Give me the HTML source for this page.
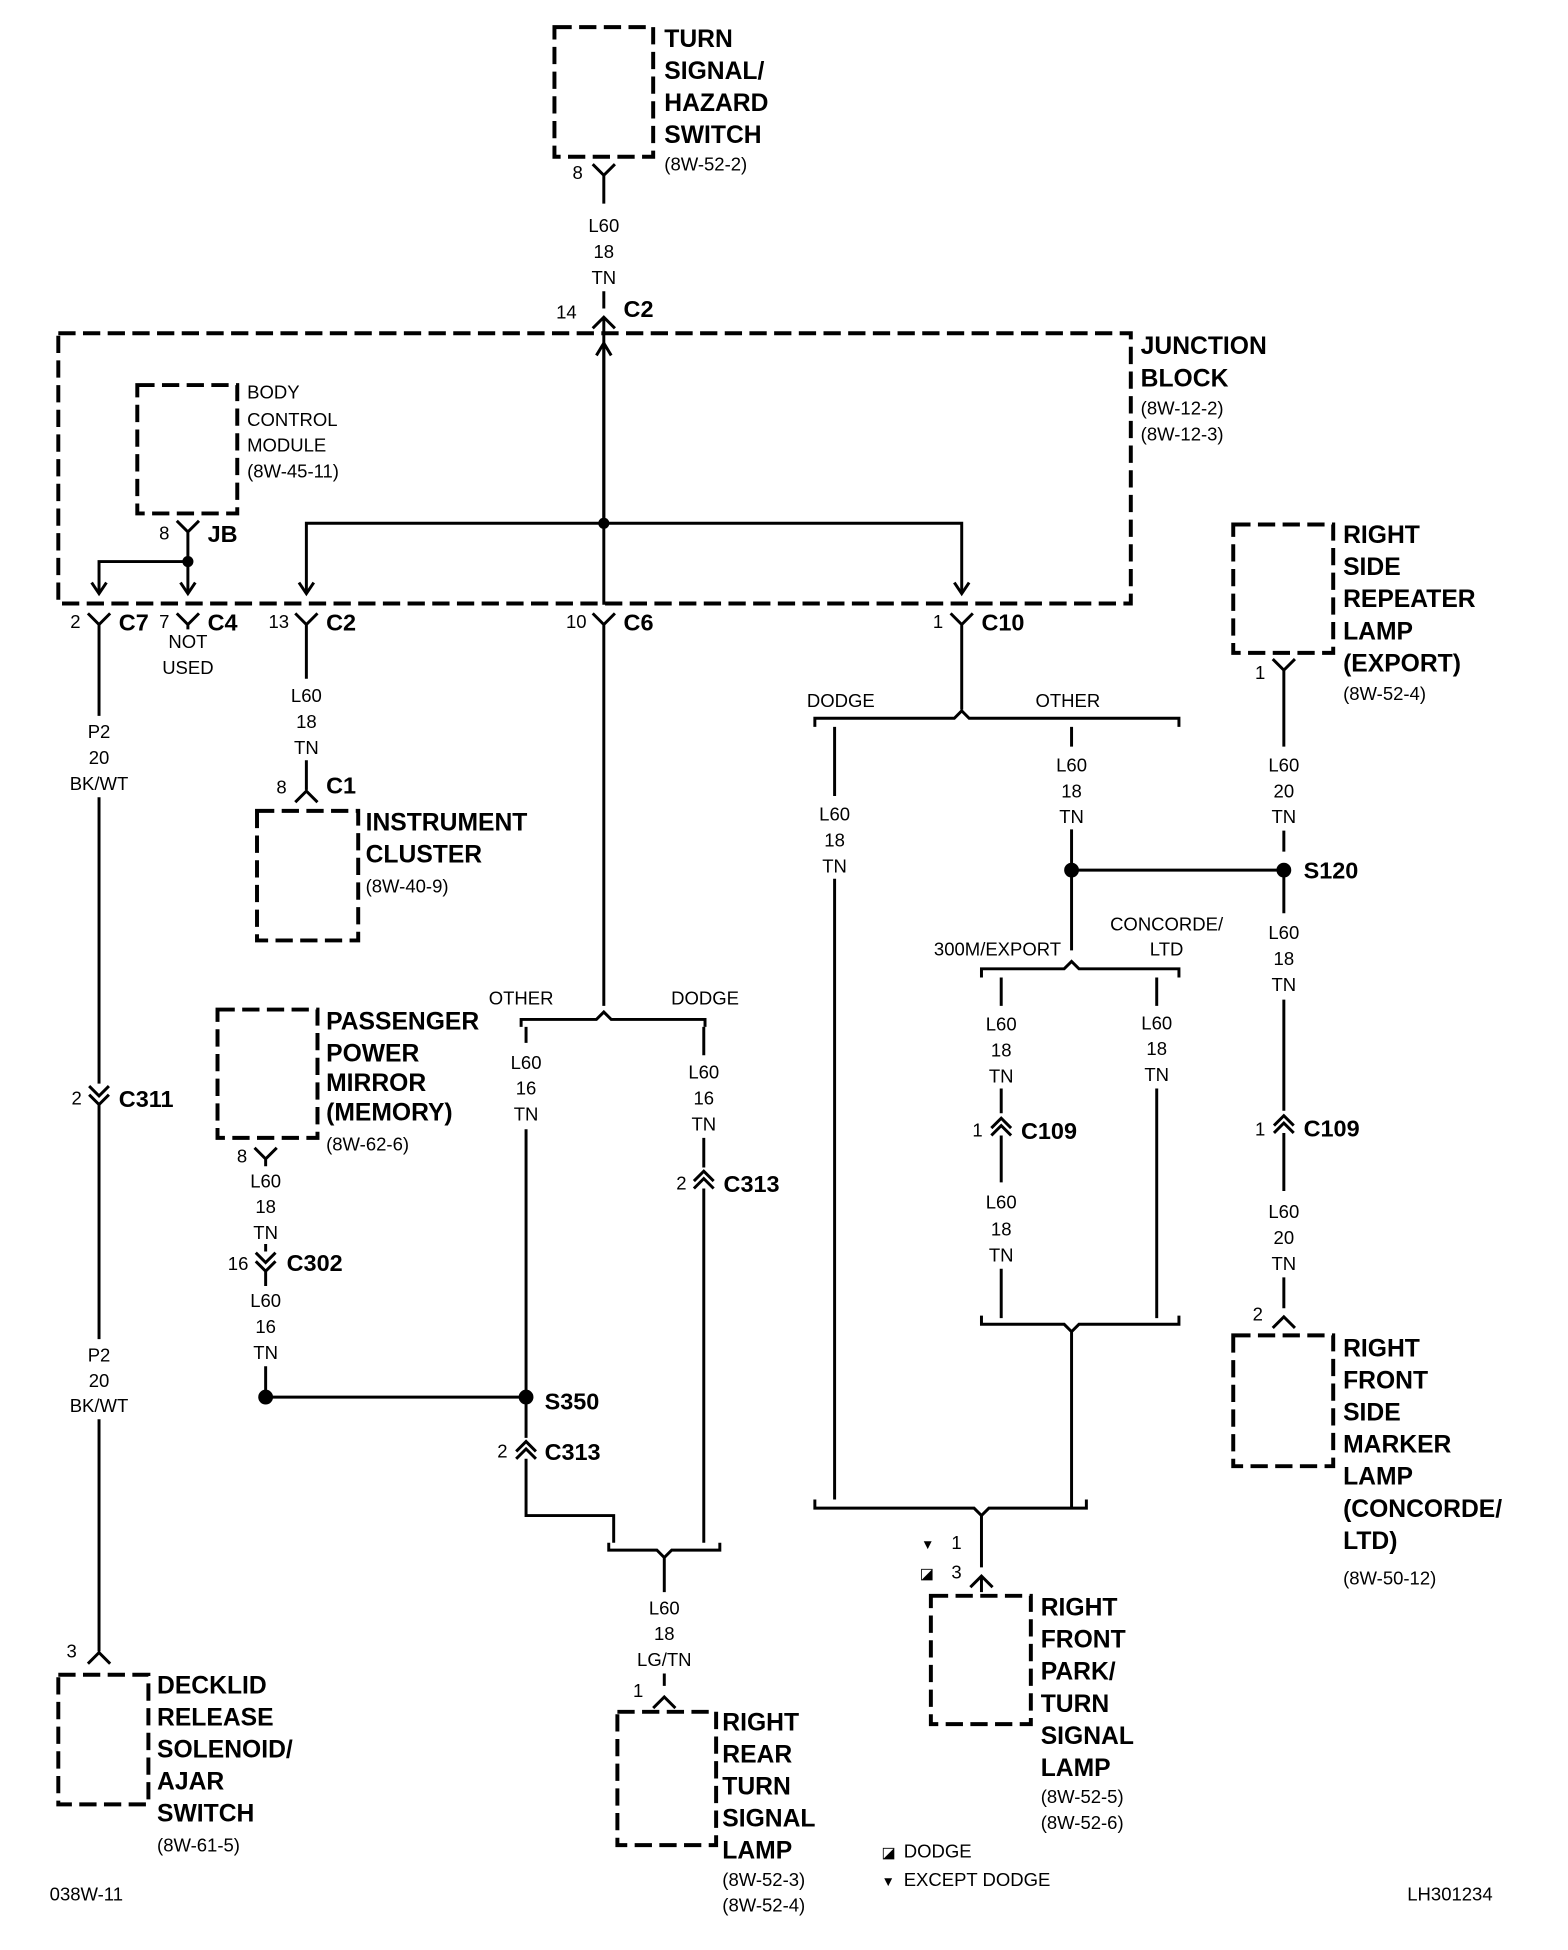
<!DOCTYPE html>
<html><head><meta charset="utf-8"><style>
html,body{margin:0;padding:0;background:#fff}
svg{display:block}
text{font-family:"Liberation Sans",sans-serif;fill:#000}
.t{font-size:20px;font-weight:bold}
.s{font-size:15px}
.c{font-size:19px;font-weight:bold}
.b{fill:none;stroke:#000;stroke-width:3.2;stroke-dasharray:14 6}
.w{fill:none;stroke:#000;stroke-width:2.4}
</style></head><body>
<svg width="1568" height="1950" viewBox="0 0 1270 1580" xmlns="http://www.w3.org/2000/svg">
<!-- boxes -->
<rect class="b" x="449" y="22" width="80" height="105"/>
<rect class="b" x="47" y="270" width="869" height="219"/>
<rect class="b" x="111" y="312" width="81" height="104"/>
<rect class="b" x="208" y="657" width="82" height="105"/>
<rect class="b" x="176" y="818" width="81" height="104"/>
<rect class="b" x="999" y="425" width="81" height="104"/>
<rect class="b" x="999" y="1082" width="81" height="106"/>
<rect class="b" x="47" y="1357" width="73" height="105"/>
<rect class="b" x="500" y="1387" width="80" height="108"/>
<rect class="b" x="754" y="1293" width="81" height="104"/>

<g class="w">
<!-- top wire -->
<path d="M480 133 L489 142 L498 133 M489 142 V165"/>
<path d="M489 236 V250 M480 266 L489 257 L498 266 M489 257 V424"/>
<path d="M489 424 V278 M483 288 L489 278 L495 288"/>
<path d="M489 424 V490 M480 497 L489 506 L498 497 M489 506 V815"/>
<path d="M248 480 V424 H779 V480"/>
<path d="M242 472 L248 481 L254 472 M773 472 L779 481 L785 472"/>
<!-- BCM -->
<path d="M143 422 L152 431 L161 422 M152 431 V455 H80 V480 M152 455 V480"/>
<path d="M74 472 L80 481 L86 472 M146 472 L152 481 L158 472"/>
<!-- bottom connectors of JB -->
<path d="M71 497 L80 506 L89 497 M80 506 V580 M143 497 L152 506 L161 497 M152 506 V510 M239 497 L248 506 L257 497 M248 506 V550 M770 497 L779 506 L788 497 M779 506 V575"/>
<!-- P2 -->
<path d="M80 646 V878 M72 880 L80 888 L88 880 M72 887 L80 895 L88 887 M80 895 V1085 M80 1150 V1338 M71 1348 L80 1339 L89 1348"/>
<!-- C1 -->
<path d="M248 616 V640 M239 650 L248 641 L257 650"/>
<!-- C6 branch -->
<path d="M422 832 V826 H483 L489 820 L495 826 H571 V832"/>
<path d="M426 832 V845 M426 915 V1132 H215 M426 1132 V1165 M418 1176 L426 1168 L434 1176 M418 1182 L426 1174 L434 1182 M426 1182 V1228 H497 V1250"/>
<path d="M570 832 V855 M570 922 V946 M562 957 L570 949 L578 957 M562 963 L570 955 L578 963 M570 963 V1250"/>
<path d="M493 1250 V1256 H532 L538 1262 L544 1256 H583 V1250 M538 1262 V1290 M538 1356 V1366 M529 1384 L538 1375 L547 1384"/>
<!-- mirror -->
<path d="M206 930 L215 939 L224 930 M215 939 V945 M215 1008 V1014 M207 1015 L215 1023 L223 1015 M207 1022 L215 1030 L223 1022 M215 1030 V1042 M215 1107 V1132"/>
<!-- C10 branch -->
<path d="M660 589 V582 H773 L779 576 L785 582 H955 V589"/>
<path d="M676 589 V645 M676 712 V1215"/>
<path d="M868 589 V605 M868 672 V770 M868 705 H1040"/>
<path d="M795 792 V785 H862 L868 779 L874 785 H955 V792"/>
<path d="M811 792 V815 M811 882 V902 M803 914 L811 906 L819 914 M803 920 L811 912 L819 920 M811 920 V958 M811 1028 V1068"/>
<path d="M937 792 V815 M937 882 V1068"/>
<path d="M795 1066 V1073 H862 L868 1079 L874 1073 H955 V1066 M868 1079 V1222"/>
<path d="M660 1215 V1222 H789 L795 1228 L801 1222 H880 V1215"/>
<path d="M795 1228 V1270 M786 1286 L795 1277 L804 1286 M795 1277 V1290"/>
<!-- right side -->
<path d="M1031 534 L1040 543 L1049 534 M1040 543 V605 M1040 673 V690 M1040 705 V740 M1040 810 V900 M1032 912 L1040 904 L1048 912 M1032 918 L1040 910 L1048 918 M1040 918 V965 M1040 1035 V1060 M1031 1076 L1040 1067 L1049 1076"/>
</g>
<g>
<circle cx="489" cy="424" r="4.5"/><circle cx="152" cy="455" r="4.5"/>
<circle cx="426" cy="1132" r="6"/><circle cx="215" cy="1132" r="6"/>
<circle cx="868" cy="705" r="6"/><circle cx="1040" cy="705" r="6"/>
</g>

<!-- box labels -->
<g class="t">
<text x="538" y="38">TURN</text><text x="538" y="64">SIGNAL/</text><text x="538" y="90">HAZARD</text><text x="538" y="116">SWITCH</text>
<text x="924" y="287">JUNCTION</text><text x="924" y="313">BLOCK</text>
<text x="296" y="673">INSTRUMENT</text><text x="296" y="699">CLUSTER</text>
<text x="264" y="834">PASSENGER</text><text x="264" y="860">POWER</text><text x="264" y="884">MIRROR</text><text x="264" y="908">(MEMORY)</text>
<text x="1088" y="440">RIGHT</text><text x="1088" y="466">SIDE</text><text x="1088" y="492">REPEATER</text><text x="1088" y="518">LAMP</text><text x="1088" y="544">(EXPORT)</text>
<text x="1088" y="1099">RIGHT</text><text x="1088" y="1125">FRONT</text><text x="1088" y="1151">SIDE</text><text x="1088" y="1177">MARKER</text><text x="1088" y="1203">LAMP</text><text x="1088" y="1229">(CONCORDE/</text><text x="1088" y="1255">LTD)</text>
<text x="127" y="1372">DECKLID</text><text x="127" y="1398">RELEASE</text><text x="127" y="1424">SOLENOID/</text><text x="127" y="1450">AJAR</text><text x="127" y="1476">SWITCH</text>
<text x="585" y="1402">RIGHT</text><text x="585" y="1428">REAR</text><text x="585" y="1454">TURN</text><text x="585" y="1480">SIGNAL</text><text x="585" y="1506">LAMP</text>
<text x="843" y="1309">RIGHT</text><text x="843" y="1335">FRONT</text><text x="843" y="1361">PARK/</text><text x="843" y="1387">TURN</text><text x="843" y="1413">SIGNAL</text><text x="843" y="1439">LAMP</text>
</g>
<g class="s">
<text x="538" y="138">(8W-52-2)</text>
<text x="924" y="336">(8W-12-2)</text><text x="924" y="357">(8W-12-3)</text>
<text x="200" y="323">BODY</text><text x="200" y="345">CONTROL</text><text x="200" y="366">MODULE</text><text x="200" y="387">(8W-45-11)</text>
<text x="296" y="723">(8W-40-9)</text>
<text x="264" y="932">(8W-62-6)</text>
<text x="1088" y="567">(8W-52-4)</text>
<text x="1088" y="1284">(8W-50-12)</text>
<text x="127" y="1500">(8W-61-5)</text>
<text x="585" y="1528">(8W-52-3)</text><text x="585" y="1549">(8W-52-4)</text>
<text x="843" y="1461">(8W-52-5)</text><text x="843" y="1482">(8W-52-6)</text>
<!-- wire labels -->
<g text-anchor="middle">
<text x="489" y="188">L60</text><text x="489" y="209">18</text><text x="489" y="230">TN</text>
<text x="80" y="598">P2</text><text x="80" y="619">20</text><text x="80" y="640">BK/WT</text>
<text x="80" y="1103">P2</text><text x="80" y="1124">20</text><text x="80" y="1144">BK/WT</text>
<text x="248" y="569">L60</text><text x="248" y="590">18</text><text x="248" y="611">TN</text>
<text x="152" y="525">NOT</text><text x="152" y="546">USED</text>
<text x="422" y="814">OTHER</text><text x="571" y="814">DODGE</text>
<text x="426" y="866">L60</text><text x="426" y="887">16</text><text x="426" y="908">TN</text>
<text x="570" y="874">L60</text><text x="570" y="895">16</text><text x="570" y="916">TN</text>
<text x="538" y="1308">L60</text><text x="538" y="1329">18</text><text x="538" y="1350">LG/TN</text>
<text x="215" y="962">L60</text><text x="215" y="983">18</text><text x="215" y="1004">TN</text>
<text x="215" y="1059">L60</text><text x="215" y="1080">16</text><text x="215" y="1101">TN</text>
<text x="681" y="573">DODGE</text><text x="865" y="573">OTHER</text>
<text x="676" y="665">L60</text><text x="676" y="686">18</text><text x="676" y="707">TN</text>
<text x="868" y="625">L60</text><text x="868" y="646">18</text><text x="868" y="667">TN</text>
<text x="808" y="774">300M/EXPORT</text><text x="945" y="754">CONCORDE/</text><text x="945" y="774">LTD</text>
<text x="811" y="835">L60</text><text x="811" y="856">18</text><text x="811" y="877">TN</text>
<text x="811" y="979">L60</text><text x="811" y="1001">18</text><text x="811" y="1022">TN</text>
<text x="937" y="834">L60</text><text x="937" y="855">18</text><text x="937" y="876">TN</text>
<text x="1040" y="625">L60</text><text x="1040" y="646">20</text><text x="1040" y="667">TN</text>
<text x="1040" y="761">L60</text><text x="1040" y="782">18</text><text x="1040" y="803">TN</text>
<text x="1040" y="987">L60</text><text x="1040" y="1008">20</text><text x="1040" y="1029">TN</text>
</g>
<!-- pin numbers -->
<g text-anchor="end">
<text x="472" y="145">8</text><text x="467" y="258">14</text><text x="137" y="437">8</text>
<text x="65" y="509">2</text><text x="137" y="509">7</text><text x="234" y="509">13</text><text x="475" y="509">10</text><text x="764" y="509">1</text>
<text x="232" y="643">8</text><text x="66" y="895">2</text><text x="62" y="1343">3</text>
<text x="200" y="942">8</text><text x="201" y="1029">16</text>
<text x="556" y="964">2</text><text x="411" y="1181">2</text><text x="521" y="1375">1</text>
<text x="796" y="921">1</text><text x="1025" y="550">1</text><text x="1025" y="920">1</text><text x="1023" y="1070">2</text>
<text x="779" y="1255">1</text><text x="779" y="1279">3</text>
</g>
<text x="746" y="1255" style="font-size:11px">▼</text>
<text x="745" y="1279" style="font-size:12px">◪</text>
<text x="714" y="1505" style="font-size:12px">◪</text><text x="732" y="1505">DODGE</text>
<text x="714" y="1528" style="font-size:11px">▼</text><text x="732" y="1528">EXCEPT DODGE</text>
<text x="40" y="1540">038W-11</text><text x="1140" y="1540">LH301234</text>
</g>
<!-- connector names -->
<g class="c">
<text x="505" y="257">C2</text><text x="168" y="439">JB</text>
<text x="96" y="511">C7</text><text x="168" y="511">C4</text><text x="264" y="511">C2</text><text x="505" y="511">C6</text><text x="795" y="511">C10</text>
<text x="264" y="643">C1</text><text x="96" y="897">C311</text><text x="232" y="1030">C302</text>
<text x="586" y="966">C313</text><text x="441" y="1183">C313</text><text x="441" y="1142">S350</text>
<text x="1056" y="712">S120</text><text x="827" y="923">C109</text><text x="1056" y="921">C109</text>
</g>
</svg>
</body></html>
